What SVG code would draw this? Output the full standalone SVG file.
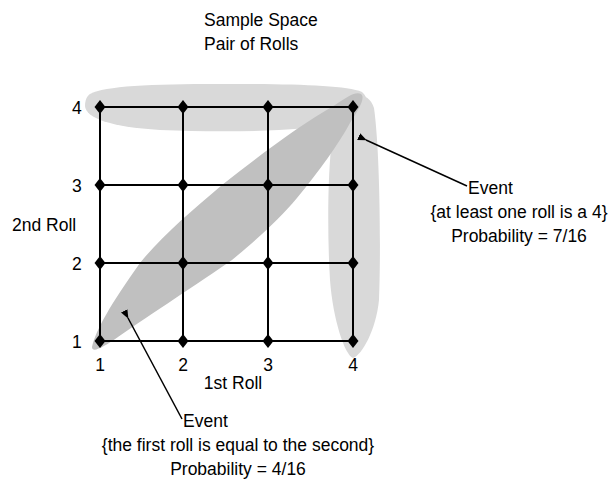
<svg xmlns="http://www.w3.org/2000/svg" width="611" height="489" viewBox="0 0 611 489">
<style>
text{font-family:"Liberation Sans",Arial,sans-serif;font-size:17.5px;fill:#000}
.g{stroke:#000;stroke-width:2;fill:none}
.l{stroke:#000;stroke-width:1.5;fill:none}
.d{fill:#000}
</style>
<defs>
<path id="dia" d="M0,-7 L5.5,0 L0,7 L-5.5,0 Z"/>
<marker id="ah" viewBox="0 0 10 10" refX="1" refY="5" markerWidth="6" markerHeight="6" orient="auto-start-reverse">
<path d="M10,1 L0,5 L10,9 Z" fill="#000"/>
</marker>
</defs>
<rect width="611" height="489" fill="#fff"/>
<g id="regions">
<path d="M90,94 C105,86 150,84 220,84 C290,84 345,85 362,92 C372,100 365,118 340,124 C300,131 230,133 160,130 C110,127 86,118 85,106 C85,100 87,96 90,94 Z" fill="#d9d9d9"/>
<path d="M340,100 C355,90 370,94 374,108 C380,150 381,250 379,300 C376,330 362,355 353,358 C345,355 333,320 330,280 C327,230 328,170 332,140 C334,120 335,108 340,100 Z" fill="#d9d9d9"/>
<path d="M92,347 C96,330 110,305 140,263 C160,238 190,212 222,185 C260,155 300,125 335,105 C348,96 356,91 361,94 C366,98 358,110 350,123 C338,145 320,170 297,198 C280,218 262,235 232,260 C200,282 150,315 118,337 C105,346 92,354 92,347 Z" fill="#c0c0c0"/>
</g>
<g id="grid">
<line class="g" x1="100" y1="107" x2="353" y2="107"/>
<line class="g" x1="100" y1="185" x2="353" y2="185"/>
<line class="g" x1="100" y1="263" x2="353" y2="263"/>
<line class="g" x1="100" y1="341" x2="353" y2="341"/>
<line class="g" x1="100" y1="107" x2="100" y2="341"/>
<line class="g" x1="183" y1="107" x2="183" y2="341"/>
<line class="g" x1="268" y1="107" x2="268" y2="341"/>
<line class="g" x1="353" y1="107" x2="353" y2="341"/>
</g>
<g id="points" class="d">
<use href="#dia" x="100" y="107"/><use href="#dia" x="183" y="107"/><use href="#dia" x="268" y="107"/><use href="#dia" x="353" y="107"/>
<use href="#dia" x="100" y="185"/><use href="#dia" x="183" y="185"/><use href="#dia" x="268" y="185"/><use href="#dia" x="353" y="185"/>
<use href="#dia" x="100" y="263"/><use href="#dia" x="183" y="263"/><use href="#dia" x="268" y="263"/><use href="#dia" x="353" y="263"/>
<use href="#dia" x="100" y="341"/><use href="#dia" x="183" y="341"/><use href="#dia" x="268" y="341"/><use href="#dia" x="353" y="341"/>
</g>
<g id="title">
<text x="204" y="26">Sample Space</text>
<text x="204" y="50">Pair of Rolls</text>
</g>
<g id="yaxis">
<text x="72" y="114">4</text>
<text x="72" y="192">3</text>
<text x="72" y="270">2</text>
<text x="72" y="348">1</text>
<text x="12" y="231">2nd Roll</text>
</g>
<g id="xaxis">
<text x="100" y="371" text-anchor="middle">1</text>
<text x="183" y="371" text-anchor="middle">2</text>
<text x="268" y="371" text-anchor="middle">3</text>
<text x="353" y="371" text-anchor="middle">4</text>
<text x="233" y="389" text-anchor="middle">1st Roll</text>
</g>
<g id="connectors">
<line class="l" x1="366" y1="140" x2="467" y2="186" marker-start="url(#ah)"/>
<line class="l" x1="128" y1="318" x2="182" y2="419" marker-start="url(#ah)"/>
</g>
<g id="event1">
<text x="468" y="194">Event</text>
<text x="519" y="218" text-anchor="middle">{at least one roll is a 4}</text>
<text x="519" y="242" text-anchor="middle">Probability = 7/16</text>
</g>
<g id="event2">
<text x="183" y="427">Event</text>
<text x="238" y="451" text-anchor="middle">{the first roll is equal to the second}</text>
<text x="238" y="475" text-anchor="middle">Probability = 4/16</text>
</g>
</svg>
